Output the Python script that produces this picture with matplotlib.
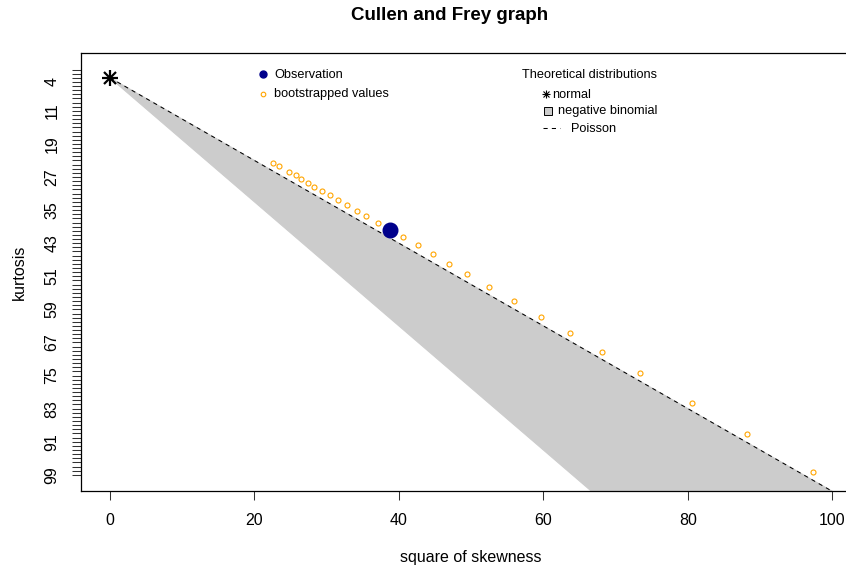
import matplotlib
matplotlib.use("Agg")
import matplotlib.pyplot as plt
from matplotlib.ticker import FixedLocator, FixedFormatter

plt.rcParams["font.family"] = ["Liberation Sans", "DejaVu Sans"]

# observed sample (square of skewness, kurtosis)
obs_skew2 = [38.7]
obs_kurt = [39.9]

# bootstrapped values
boot_skew2 = [22.6, 23.4, 24.8, 25.7, 26.5, 27.4, 28.3, 29.3, 30.4, 31.5,
              32.8, 34.2, 35.5, 37.1, 40.5, 42.6, 44.7, 47.0, 49.4, 52.5,
              55.9, 59.7, 63.7, 68.1, 73.4, 80.6, 88.2, 97.3]
boot_kurt = [23.7, 24.3, 25.8, 26.5, 27.5, 28.5, 29.4, 30.4, 31.4, 32.6,
             33.8, 35.3, 36.4, 38.1, 41.6, 43.4, 45.7, 48.0, 50.5, 53.6,
             57.0, 60.8, 64.8, 69.2, 74.5, 81.6, 89.2, 98.4]

# theoretical distributions
normal_skew2, normal_kurt = [0.0], [3.0]
poisson_skew2 = [0, 100]
poisson_kurt = [3, 103]
# negative binomial area: between p -> 1 (Poisson line) and p -> 0
negbin_skew2 = [0, 100, 100]
negbin_kurt = [3, 153, 103]

x_ticks = [0, 20, 40, 60, 80, 100]
kurt_ticks = list(range(1, 100))
kurt_labelled = [4, 11, 19, 27, 35, 43, 51, 59, 67, 75, 83, 91, 99]

W, H = 846, 571
fig = plt.figure(figsize=(W / 100, H / 100), dpi=100)
L, R, T, B = 81.1, 861.2, 53.3, 491.0
ax = fig.add_axes([L / W, 1 - B / H, (R - L) / W, (B - T) / H])

ax.fill(negbin_skew2, negbin_kurt, color="#cccccc", lw=0.8, zorder=1)
ax.plot(poisson_skew2, poisson_kurt, color="black", lw=0.75,
        ls=(0, (4, 4)), zorder=2)
ax.plot(normal_skew2, normal_kurt, "+", color="black", ms=12, mew=1.6, zorder=3)
ax.plot(normal_skew2, normal_kurt, "x", color="black", ms=9, mew=1.6, zorder=3)
ax.plot(boot_skew2, boot_kurt, "o", mfc="none", mec="#FFA500", ms=3.6,
        mew=0.8, zorder=3)
ax.plot(obs_skew2, obs_kurt, "o", color="#00008B", ms=10.5, zorder=4)

ax.set_xlim(-4, 104)
ax.set_ylim(102.92, -2.92)

ax.set_xticks(x_ticks)
ax.yaxis.set_major_locator(FixedLocator(kurt_ticks))
ax.yaxis.set_major_formatter(FixedFormatter(
    [str(k) if k in kurt_labelled else "" for k in kurt_ticks]))
ax.tick_params(axis="both", length=6.5, width=0.75, labelsize=11.5, pad=9,
               color="#333333")
for lab in ax.get_yticklabels():
    lab.set_rotation(90)
    lab.set_va("center")
for sp in ax.spines.values():
    sp.set_linewidth(0.9)

ax.set_xlabel("square of skewness", fontsize=11.5, labelpad=16)
ax.set_ylabel("kurtosis", fontsize=11.5, labelpad=13)

fig.text(450 / W, 1 - 16 / H, "Cullen and Frey graph", ha="center",
         va="center", fontsize=13.5, fontweight="bold")

# legends drawn in pixel space
ov = fig.add_axes([0, 0, 1, 1])
ov.set_xlim(0, W)
ov.set_ylim(H, 0)
ov.axis("off")
fs = 9.2
ov.plot(262.7, 74, "o", color="#00008B", ms=5)
ov.text(274, 74.5, "Observation", va="center", fontsize=fs)
ov.plot(262.7, 93.5, "o", mfc="none", mec="#FFA500", ms=3.3, mew=0.8)
ov.text(274, 94, "bootstrapped values", va="center", fontsize=fs)

ov.text(522.5, 75, "Theoretical distributions", va="center", fontsize=fs)
ov.plot(545.7, 94, "+", color="black", ms=6, mew=0.8)
ov.plot(545.7, 94, "x", color="black", ms=4.5, mew=0.8)
ov.text(552.5, 94.5, "normal", va="center", fontsize=fs)
ov.plot(547.7, 110.5, "s", mfc="#cccccc", mec="black", ms=5.5, mew=0.7)
ov.text(558.5, 111, "negative binomial", va="center", fontsize=fs)
ov.plot([542.7, 560], [128.3, 128.3], color="black", lw=0.75, ls=(0, (4, 4)))
ov.text(571, 128.5, "Poisson", va="center", fontsize=fs)

fig.savefig("out.png", dpi=100)
